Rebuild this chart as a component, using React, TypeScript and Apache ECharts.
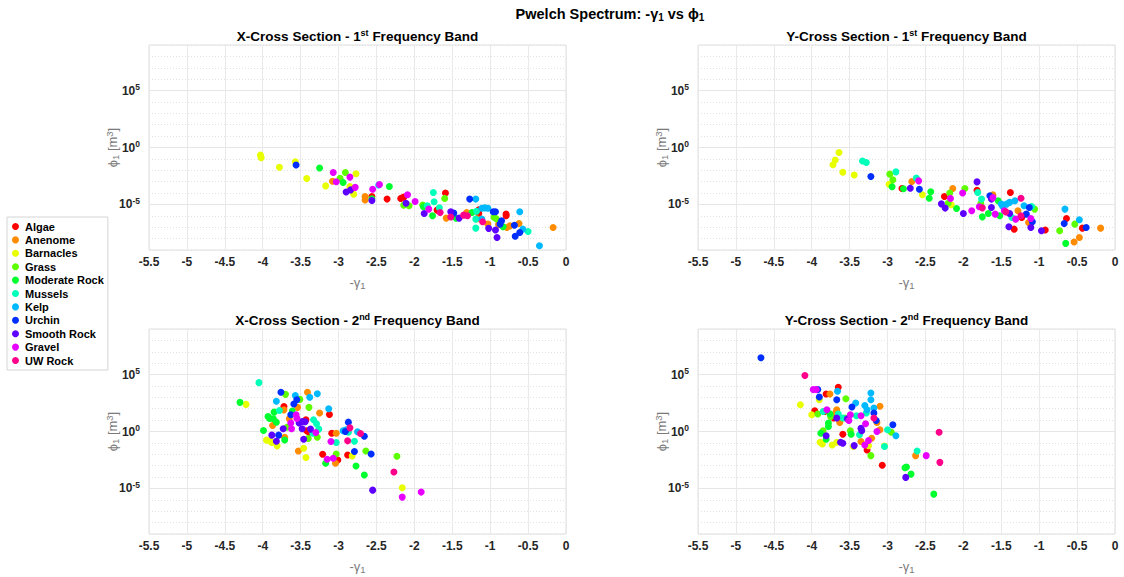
import React, { useEffect, useRef } from "react";
import * as echarts from "echarts";

// ---------- categories & colours ----------
const classes = ["Algae", "Anenome", "Barnacles", "Grass", "Moderate Rock", "Mussels", "Kelp", "Urchin", "Smooth Rock", "Gravel", "UW Rock"];
const classColors = ["#ff0000", "#ff8b00", "#e8ff00", "#5dff00", "#00ff2e", "#00ffb9", "#00b9ff", "#002eff", "#5d00ff", "#e800ff", "#ff008b"];

const xTickMin = -5.5;
const xTickMax = 0;
const xTickStep = 0.5;
const yMinExp = -9;
const yMaxExp = 9;
const yLabelExps = [-5, 0, 5];

// ---------- data: [-gamma1, log10(phi1)] per class, in class order ----------
const xBand1 = [
  [[-2.56, -4.3], [-2.36, -4.53], [-2.18, -4.47], [-2.14, -4.36], [-1.7, -5.5], [-1.59, -4.0], [-1.15, -5.47], [-1.15, -5.8], [-0.79, -5.85], [-0.79, -6.0]],
  [[-3.08, -2.96], [-2.65, -4.3], [-2.65, -4.6], [-1.58, -6.2], [-1.31, -5.7], [-1.17, -6.25], [-1.03, -6.73], [-0.89, -6.77], [-0.78, -7.02], [-0.74, -6.88], [-0.62, -6.67], [-0.17, -7.02]],
  [[-4.03, -0.67], [-4.02, -0.9], [-3.78, -1.74], [-3.57, -1.25], [-3.42, -2.73], [-3.17, -3.37], [-2.77, -2.3], [-2.85, -3.42], [-2.8, -4.1]],
  [[-2.98, -2.7], [-2.91, -2.19], [-2.14, -5.06], [-2.07, -5.12], [-1.6, -4.47], [-0.95, -6.13], [-0.92, -6.25], [-1.89, -5.06]],
  [[-3.25, -1.8], [-2.94, -3.07], [-2.56, -4.5], [-2.33, -3.42], [-1.88, -5.2], [-1.76, -6.0], [-1.45, -6.2], [-1.24, -5.7], [-0.83, -6.96]],
  [[-1.83, -5.12], [-1.75, -3.95], [-1.74, -4.77], [-1.67, -5.3], [-1.18, -5.59], [-1.19, -6.29], [-1.19, -7.08], [-0.5, -7.37]],
  [[-2.47, -3.3], [-1.19, -4.53], [-1.11, -5.33], [-1.07, -5.3], [-1.03, -5.33], [-1.11, -6.29], [-0.61, -5.64], [-0.57, -7.17], [-0.35, -8.63]],
  [[-3.56, -1.54], [-1.48, -5.76], [-1.27, -4.53], [-0.96, -5.64], [-0.93, -5.64], [-0.85, -6.44], [-0.87, -6.73], [-0.68, -6.82], [-0.61, -7.46], [-0.67, -7.8]],
  [[-2.84, -3.72], [-2.9, -3.9], [-2.56, -4.65], [-2.11, -4.89], [-1.87, -5.79], [-1.52, -5.64], [-1.41, -6.2], [-1.02, -7.1], [-0.93, -7.25], [-0.91, -7.9]],
  [[-3.07, -2.19], [-2.85, -2.6], [-3.03, -3.0], [-2.78, -3.5], [-2.55, -3.66], [-2.46, -3.25], [-2.09, -4.15], [-1.99, -4.74], [-1.81, -5.41]],
  [[-1.66, -5.7], [-1.52, -6.11], [-1.35, -5.94], [-1.3, -6.0], [-1.1, -6.52]],
];

const yBand1 = [
  [[-2.81, -3.6], [-2.25, -4.3], [-1.82, -3.75], [-1.38, -3.95], [-1.23, -6.14], [-1.33, -7.17], [-0.92, -7.25], [-0.64, -6.23], [-0.43, -7.08]],
  [[-2.68, -2.98], [-2.14, -3.6], [-1.61, -4.16], [-1.28, -5.56], [-1.14, -6.58], [-0.19, -7.08], [-0.47, -7.9], [-0.54, -8.3]],
  [[-3.64, -0.44], [-3.69, -1.1], [-3.72, -1.51], [-3.59, -2.18], [-3.44, -2.41], [-2.98, -3.22], [-2.54, -4.15], [-2.16, -5.03]],
  [[-2.97, -2.34], [-2.93, -2.84], [-2.18, -4.0], [-2.2, -4.9], [-1.98, -3.6], [-1.77, -4.91], [-1.06, -5.41], [-0.53, -6.73], [-0.73, -7.31]],
  [[-2.94, -3.45], [-2.79, -3.62], [-2.43, -3.89], [-2.45, -4.45], [-2.09, -5.35], [-1.75, -6.09], [-1.67, -5.79], [-1.54, -4.68], [-1.52, -6.0], [-0.65, -8.42]],
  [[-3.33, -1.18], [-3.28, -1.32], [-2.89, -2.14], [-2.62, -2.69], [-1.81, -3.95], [-1.76, -4.53], [-1.36, -6.14], [-1.1, -5.18]],
  [[-1.5, -4.97], [-1.48, -5.18], [-1.43, -4.97], [-1.39, -4.82], [-1.32, -4.68], [-1.2, -5.12], [-0.66, -5.41], [-0.47, -6.35]],
  [[-3.22, -2.54], [-2.58, -3.66], [-1.65, -4.24], [-1.13, -5.27], [-1.17, -5.85], [-1.09, -6.52], [-0.67, -6.67], [-0.38, -7.02]],
  [[-2.7, -3.57], [-2.29, -4.95], [-2.24, -5.32], [-2.0, -5.79], [-1.82, -3.02], [-1.63, -4.53], [-1.63, -5.27], [-1.39, -5.79], [-1.4, -6.96], [-1.11, -7.02], [-0.97, -7.31]],
  [[-2.59, -2.93], [-2.17, -4.47], [-2.01, -4.0], [-1.89, -5.56], [-1.79, -5.21], [-1.61, -4.4], [-1.58, -5.85], [-1.46, -5.56], [-1.31, -6.29], [-1.11, -6.23]],
  [[-1.75, -5.3], [-1.44, -5.65], [-1.24, -4.45], [-1.24, -6.0]],
];

const xBand2 = [
  [[-3.72, 2.2], [-3.43, 1.03], [-3.12, 1.5], [-3.42, 0.06], [-3.39, -0.06], [-3.21, -2.0], [-3.09, -0.15], [-3.01, -2.5], [-2.88, -2.06]],
  [[-3.41, 3.44], [-3.54, 2.12], [-3.72, 1.9], [-3.25, 1.62], [-3.87, 0.53], [-3.65, 1.12], [-3.71, -0.5], [-3.53, -1.71], [-3.03, -0.15], [-3.04, -2.79]],
  [[-4.22, 2.38], [-3.95, -0.76], [-3.9, -0.85], [-3.88, -0.97], [-3.81, -1.26], [-3.46, -1.47], [-3.43, -2.29], [-2.82, -2.15], [-2.16, -4.94]],
  [[-3.7, 3.26], [-3.51, 2.82], [-3.39, 2.12], [-3.68, 0.38], [-3.4, -0.62], [-3.28, -0.5], [-3.03, -1.97], [-2.64, -1.71], [-2.23, -2.18]],
  [[-4.3, 2.56], [-3.85, 1.7], [-3.61, 1.79], [-3.93, 1.32], [-3.91, 1.15], [-3.86, 1.12], [-3.82, 0.82], [-3.99, 0.09], [-3.71, -0.74], [-3.17, -2.79], [-2.77, -3.03], [-2.66, -3.82]],
  [[-4.05, 4.29], [-3.78, 1.85], [-3.33, 1.03], [-3.29, 0.68], [-3.26, 0.21], [-3.34, -0.15], [-3.03, -0.97], [-2.87, -0.06], [-2.79, -0.85]],
  [[-3.82, 2.65], [-3.57, 3.15], [-3.38, 3.0], [-3.28, 3.32], [-3.13, 2.0], [-2.94, 0.06], [-2.9, 0.15], [-2.75, -0.03]],
  [[-3.76, 3.44], [-3.55, 2.79], [-3.59, 2.41], [-3.63, 1.47], [-3.79, -0.32], [-2.91, 0.0], [-2.87, 0.82], [-2.66, -0.41], [-2.79, -1.76], [-2.57, -1.97]],
  [[-3.52, 0.74], [-3.48, 0.88], [-3.44, 0.85], [-3.73, 0.24], [-3.48, 0.24], [-3.37, 0.21], [-3.88, -0.32], [-3.82, -0.85], [-3.46, -0.68], [-2.55, -5.15]],
  [[-3.56, 1.47], [-3.55, 1.15], [-3.63, 0.74], [-3.62, 0.24], [-3.3, -0.09], [-3.1, -0.88], [-3.15, -2.44], [-3.07, -2.35], [-2.16, -5.76], [-1.91, -5.32]],
  [[-2.85, 0.32], [-2.71, -0.18], [-2.88, -0.82], [-2.27, -3.56]],
];

const yBand2 = [
  [[-3.65, 3.88], [-3.81, 3.29], [-3.96, 1.82], [-3.83, 1.76], [-3.71, 1.18], [-3.59, -0.24], [-3.27, -1.62], [-3.07, -2.97]],
  [[-3.76, 3.29], [-3.1, 2.21], [-3.67, 1.91], [-3.68, 1.68], [-3.63, 0.79], [-3.14, 0.79], [-3.1, 0.15], [-3.35, -0.88], [-3.21, -0.59], [-2.63, -2.12]],
  [[-3.9, 2.79], [-4.15, 2.35], [-4.0, 1.47], [-3.89, -0.94], [-3.86, -1.09], [-3.73, -1.18], [-3.67, -0.94], [-3.45, -1.32], [-3.25, -1.24], [-3.04, -1.28]],
  [[-3.55, 2.88], [-3.92, 1.53], [-3.75, 1.32], [-3.56, 1.18], [-3.85, 0.06], [-3.49, 0.06], [-2.95, -0.06], [-3.22, -2.12]],
  [[-3.76, 1.56], [-3.78, 0.74], [-3.78, 0.44], [-3.88, -0.15], [-3.81, -0.68], [-3.48, -0.24], [-2.77, -3.18], [-2.75, -3.12], [-2.69, -3.74], [-2.39, -5.5]],
  [[-3.85, 1.76], [-3.65, 1.53], [-3.59, 1.18], [-3.28, 1.62], [-3.41, 1.38], [-3.37, -0.29], [-3.0, 0.15], [-3.04, -1.32], [-2.61, -1.71]],
  [[-3.66, 3.53], [-3.22, 3.38], [-3.22, 2.79], [-3.42, 2.5], [-3.3, 2.29], [-3.27, 1.91], [-3.18, 2.06], [-2.89, -0.38]],
  [[-4.67, 6.47], [-3.92, 3.68], [-3.9, 3.03], [-3.67, 2.79], [-3.47, 2.15], [-3.18, 1.62], [-3.15, 0.97], [-2.93, 0.59]],
  [[-3.67, 1.18], [-3.53, 1.12], [-3.35, 0.29], [-3.34, 0.06], [-3.81, -0.38], [-3.62, -0.94], [-3.59, -1.03], [-3.44, -1.24], [-2.76, -4.03]],
  [[-3.98, 3.68], [-3.94, 3.68], [-3.8, 1.91], [-3.51, 0.97], [-3.49, 1.47], [-3.35, 1.38], [-3.29, 0.68], [-3.14, 0.0], [-3.3, -1.18], [-3.25, -0.79], [-2.49, -2.12]],
  [[-4.09, 4.91], [-3.18, 1.18], [-2.32, -0.06], [-2.31, -2.71]],
];

const panels = [xBand1, yBand1, xBand2, yBand2];
const panelTitles = [
  ["X-Cross Section - 1", "st", " Frequency Band"],
  ["Y-Cross Section - 1", "st", " Frequency Band"],
  ["X-Cross Section - 2", "nd", " Frequency Band"],
  ["Y-Cross Section - 2", "nd", " Frequency Band"],
];

const FONT = "Liberation Sans, Arial, Helvetica, sans-serif";
const GRIDS = [
  { left: 149, top: 45 },
  { left: 698, top: 45 },
  { left: 149, top: 329 },
  { left: 698, top: 329 },
];
const GW = 417;
const GH = 205;

export default function App() {
  const ref = useRef<HTMLDivElement>(null);
  useEffect(() => {
    if (!ref.current) return;
    const chart = echarts.init(ref.current, undefined, { renderer: "svg" });

    const grid = GRIDS.map((g) => ({
      left: g.left, top: g.top, width: GW, height: GH,
      show: true, borderColor: "#dedede", borderWidth: 1, backgroundColor: "#fff",
    }));

    const xAxis = GRIDS.map((_, i) => ({
      type: "value", gridIndex: i, min: xTickMin, max: xTickMax, interval: xTickStep,
      axisLine: { show: false }, axisTick: { show: false },
      splitLine: { show: true, lineStyle: { color: "#e9e9e9", width: 1 } },
      axisLabel: { margin: 6, color: "#262626", fontSize: 12, fontWeight: "bold", fontFamily: FONT },
    }));

    const yAxis: any[] = [];
    GRIDS.forEach((_, i) => {
      // minor (every decade, dotted)
      yAxis.push({
        type: "log", logBase: 10, gridIndex: i, position: "left",
        min: Math.pow(10, yMinExp), max: Math.pow(10, yMaxExp), interval: 1,
        axisLine: { show: false }, axisTick: { show: false }, axisLabel: { show: false },
        splitLine: { show: true, lineStyle: { color: "#e2e2e2", type: [1, 2], width: 1 } },
      });
      // major (labels and solid lines at 1e-5, 1e0, 1e5)
      yAxis.push({
        type: "log", logBase: 10, gridIndex: i, position: "left", offset: 0,
        min: Math.pow(10, yMinExp), max: Math.pow(10, yMaxExp), interval: 1,
        axisLine: { show: false }, axisTick: { show: false },
        splitLine: {
          show: true,
          lineStyle: { color: ["transparent", "transparent", "transparent", "transparent", "#e6e6e6"], width: 1 },
        },
        axisLabel: {
          margin: 9,
          formatter: (v: number) => {
            const e = Math.round(Math.log10(v));
            return yLabelExps.indexOf(e) >= 0 ? `{b|10}{s|${e}}` : "";
          },
          rich: {
            b: { fontSize: 12, fontWeight: "bold", color: "#262626", fontFamily: FONT },
            s: { fontSize: 8.5, fontWeight: "bold", color: "#262626", fontFamily: FONT, padding: [0, 0, 7, 0] },
          },
        },
      });
    });

    const series: any[] = [];
    panels.forEach((panel, p) => {
      panel.forEach((pts, c) => {
        series.push({
          type: "scatter", name: classes[c], xAxisIndex: p, yAxisIndex: p * 2,
          data: pts.map(([x, e]) => [x, Math.pow(10, e)]),
          symbol: "circle", symbolSize: 7,
          itemStyle: { color: classColors[c], opacity: 1 },
          emphasis: { disabled: true },
        });
      });
    });

    const graphic: any[] = [];
    graphic.push({
      type: "text", x: 610, y: 14,
      style: {
        text: "{t|Pwelch Spectrum: -γ}{u|1}{t| vs ϕ}{u|1}",
        align: "center", verticalAlign: "middle",
        rich: {
          t: { fontSize: 14.5, fontWeight: "bold", fill: "#000", fontFamily: FONT },
          u: { fontSize: 10, fontWeight: "bold", fill: "#000", fontFamily: FONT, padding: [6, 0, 0, 0] },
        },
      },
    });
    GRIDS.forEach((g, i) => {
      const [a, sup, b] = panelTitles[i];
      const cx = g.left + GW / 2;
      graphic.push({
        type: "text", x: cx, y: g.top - 9,
        style: {
          text: `{t|${a}}{s|${sup}}{t|${b}}`,
          align: "center", verticalAlign: "middle",
          rich: {
            t: { fontSize: 13.5, fontWeight: "bold", fill: "#000", fontFamily: FONT },
            s: { fontSize: 9, fontWeight: "bold", fill: "#000", fontFamily: FONT, padding: [0, 0, 7, 0] },
          },
        },
      });
      graphic.push({
        type: "text", x: cx, y: g.top + GH + 32,
        style: {
          text: "{t|-γ}{u|1}",
          align: "center", verticalAlign: "middle",
          rich: {
            t: { fontSize: 13, fill: "#7a7a7a", fontFamily: FONT },
            u: { fontSize: 9.5, fill: "#7a7a7a", fontFamily: FONT, padding: [6, 0, 0, 0] },
          },
        },
      });
      graphic.push({
        type: "text", x: g.left - 37, y: g.top + GH / 2, rotation: Math.PI / 2,
        style: {
          text: "{t|ϕ}{u|1}{t| [m}{s|3}{t|]}",
          align: "center", verticalAlign: "middle",
          rich: {
            t: { fontSize: 13, fill: "#7a7a7a", fontFamily: FONT },
            u: { fontSize: 9.5, fill: "#7a7a7a", fontFamily: FONT, padding: [6, 0, 0, 0] },
            s: { fontSize: 9.5, fill: "#7a7a7a", fontFamily: FONT, padding: [0, 0, 6, 0] },
          },
        },
      });
    });

    chart.setOption({
      animation: false,
      backgroundColor: "#fff",
      grid, xAxis, yAxis, series, graphic,
      legend: {
        data: classes,
        orient: "vertical",
        left: 7, top: 217,
        icon: "circle",
        itemWidth: 7, itemHeight: 7, itemGap: 2.4,
        padding: [4, 4, 4, 5],
        borderColor: "#d4d4d4", borderWidth: 1, backgroundColor: "#fff",
        selectedMode: false,
        textStyle: { fontSize: 11, fontWeight: "bold", color: "#000", fontFamily: FONT, padding: [0, 0, 0, 1] },
      },
    });
    return () => chart.dispose();
  }, []);

  return <div ref={ref} style={{ position: "absolute", left: 0, top: 0, width: 1124, height: 577 }} />;
}
